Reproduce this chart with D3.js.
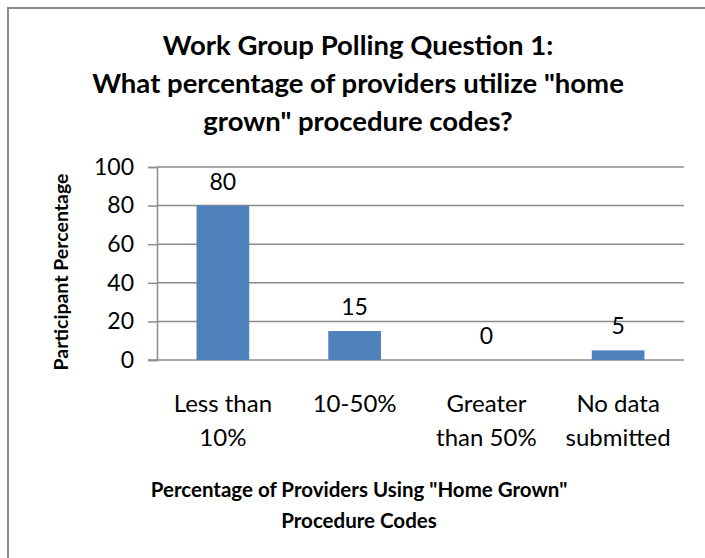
<!DOCTYPE html>
<html>
<head>
<meta charset="utf-8">
<script src="https://cdn.jsdelivr.net/npm/d3@7"></script>
<style>
  body { margin: 0; background: #fff; }
  svg { display: block; }
</style>
</head>
<body>
<svg width="705" height="558"></svg>
<script>
// chart data
var categories = [["Less than", "10%"], ["10-50%"], ["Greater", "than 50%"], ["No data", "submitted"]];
var values = [80, 15, 0, 5];
var yTicks = [0, 20, 40, 60, 80, 100];
var titleLines = ["Work Group Polling Question 1:", "What percentage of providers utilize \"home", "grown\" procedure codes?"];
var xTitleLines = ["Percentage of Providers Using \"Home Grown\"", "Procedure Codes"];
var yTitle = "Participant Percentage";

var font = "Lato, 'Open Sans', sans-serif";
var svg = d3.select("svg");

// frame (only top and left edges are in view)
svg.append("path")
  .attr("d", "M8,558 V8 H705")
  .attr("fill", "none")
  .attr("stroke", "#8c8c8c")
  .attr("stroke-width", 2);

var plotLeft = 157, plotRight = 684, plotTop = 167, plotBottom = 360;

var x = d3.scaleBand()
  .domain(d3.range(values.length))
  .range([plotLeft, plotRight])
  .paddingInner(0.6)
  .paddingOuter(0.3);

var y = d3.scaleLinear()
  .domain([0, 100])
  .range([plotBottom, plotTop]);

// title
svg.append("g").selectAll("text")
  .data(titleLines)
  .enter().append("text")
  .attr("x", 358)
  .attr("y", function (d, i) { return 55 + i * 38; })
  .attr("text-anchor", "middle")
  .attr("font-family", font)
  .attr("font-weight", 700)
  .style("font-size", "27.5px")
  .text(function (d) { return d; });

// gridlines
svg.append("g").selectAll("line")
  .data(yTicks.slice(1))
  .enter().append("line")
  .attr("x1", plotLeft)
  .attr("x2", plotRight)
  .attr("y1", function (d) { return y(d); })
  .attr("y2", function (d) { return y(d); })
  .attr("stroke", "#8c8c8c")
  .attr("stroke-width", 1.5);

// y axis
var yAxis = svg.append("g")
  .attr("transform", "translate(" + plotLeft + ",0)")
  .call(d3.axisLeft(y).tickValues(yTicks).tickSize(9).tickPadding(14));
yAxis.select(".domain").attr("stroke", "#8c8c8c").attr("stroke-width", 1.5);
yAxis.selectAll(".tick line").attr("stroke", "#8c8c8c").attr("stroke-width", 1.5);
yAxis.selectAll(".tick text")
  .attr("font-family", font)
  .style("font-size", "23px")
  .attr("fill", "#000");

// baseline
svg.append("line")
  .attr("x1", plotLeft - 9)
  .attr("x2", plotRight)
  .attr("y1", y(0))
  .attr("y2", y(0))
  .attr("stroke", "#8c8c8c")
  .attr("stroke-width", 1.5);

// bars
svg.append("g").selectAll("rect")
  .data(values)
  .enter().append("rect")
  .attr("x", function (d, i) { return x(i); })
  .attr("y", function (d) { return y(d); })
  .attr("width", x.bandwidth())
  .attr("height", function (d) { return y(0) - y(d); })
  .attr("fill", "#4f81bd");

// value labels
svg.append("g").selectAll("text")
  .data(values)
  .enter().append("text")
  .attr("x", function (d, i) { return x(i) + x.bandwidth() / 2; })
  .attr("y", function (d) { return y(d) - 16; })
  .attr("text-anchor", "middle")
  .attr("font-family", font)
  .style("font-size", "23px")
  .text(function (d) { return d; });

// category labels
var cat = svg.append("g").selectAll("text")
  .data(categories)
  .enter().append("text")
  .attr("text-anchor", "middle")
  .attr("font-family", font)
  .style("font-size", "24px")
  .attr("transform", function (d, i) { return "translate(" + (x(i) + x.bandwidth() / 2) + ",412)"; });
cat.selectAll("tspan")
  .data(function (d) { return d; })
  .enter().append("tspan")
  .attr("x", 0)
  .attr("y", function (d, i) { return i * 34; })
  .text(function (d) { return d; });

// x axis title
svg.append("g").selectAll("text")
  .data(xTitleLines)
  .enter().append("text")
  .attr("x", 359)
  .attr("y", function (d, i) { return 497 + i * 31; })
  .attr("text-anchor", "middle")
  .attr("font-family", font)
  .attr("font-weight", 700)
  .style("font-size", "20.5px")
  .text(function (d) { return d; });

// y axis title
svg.append("text")
  .attr("transform", "translate(68,272) rotate(-90)")
  .attr("text-anchor", "middle")
  .attr("font-family", font)
  .attr("font-weight", 700)
  .style("font-size", "19.5px")
  .text(yTitle);
</script>
</body>
</html>
